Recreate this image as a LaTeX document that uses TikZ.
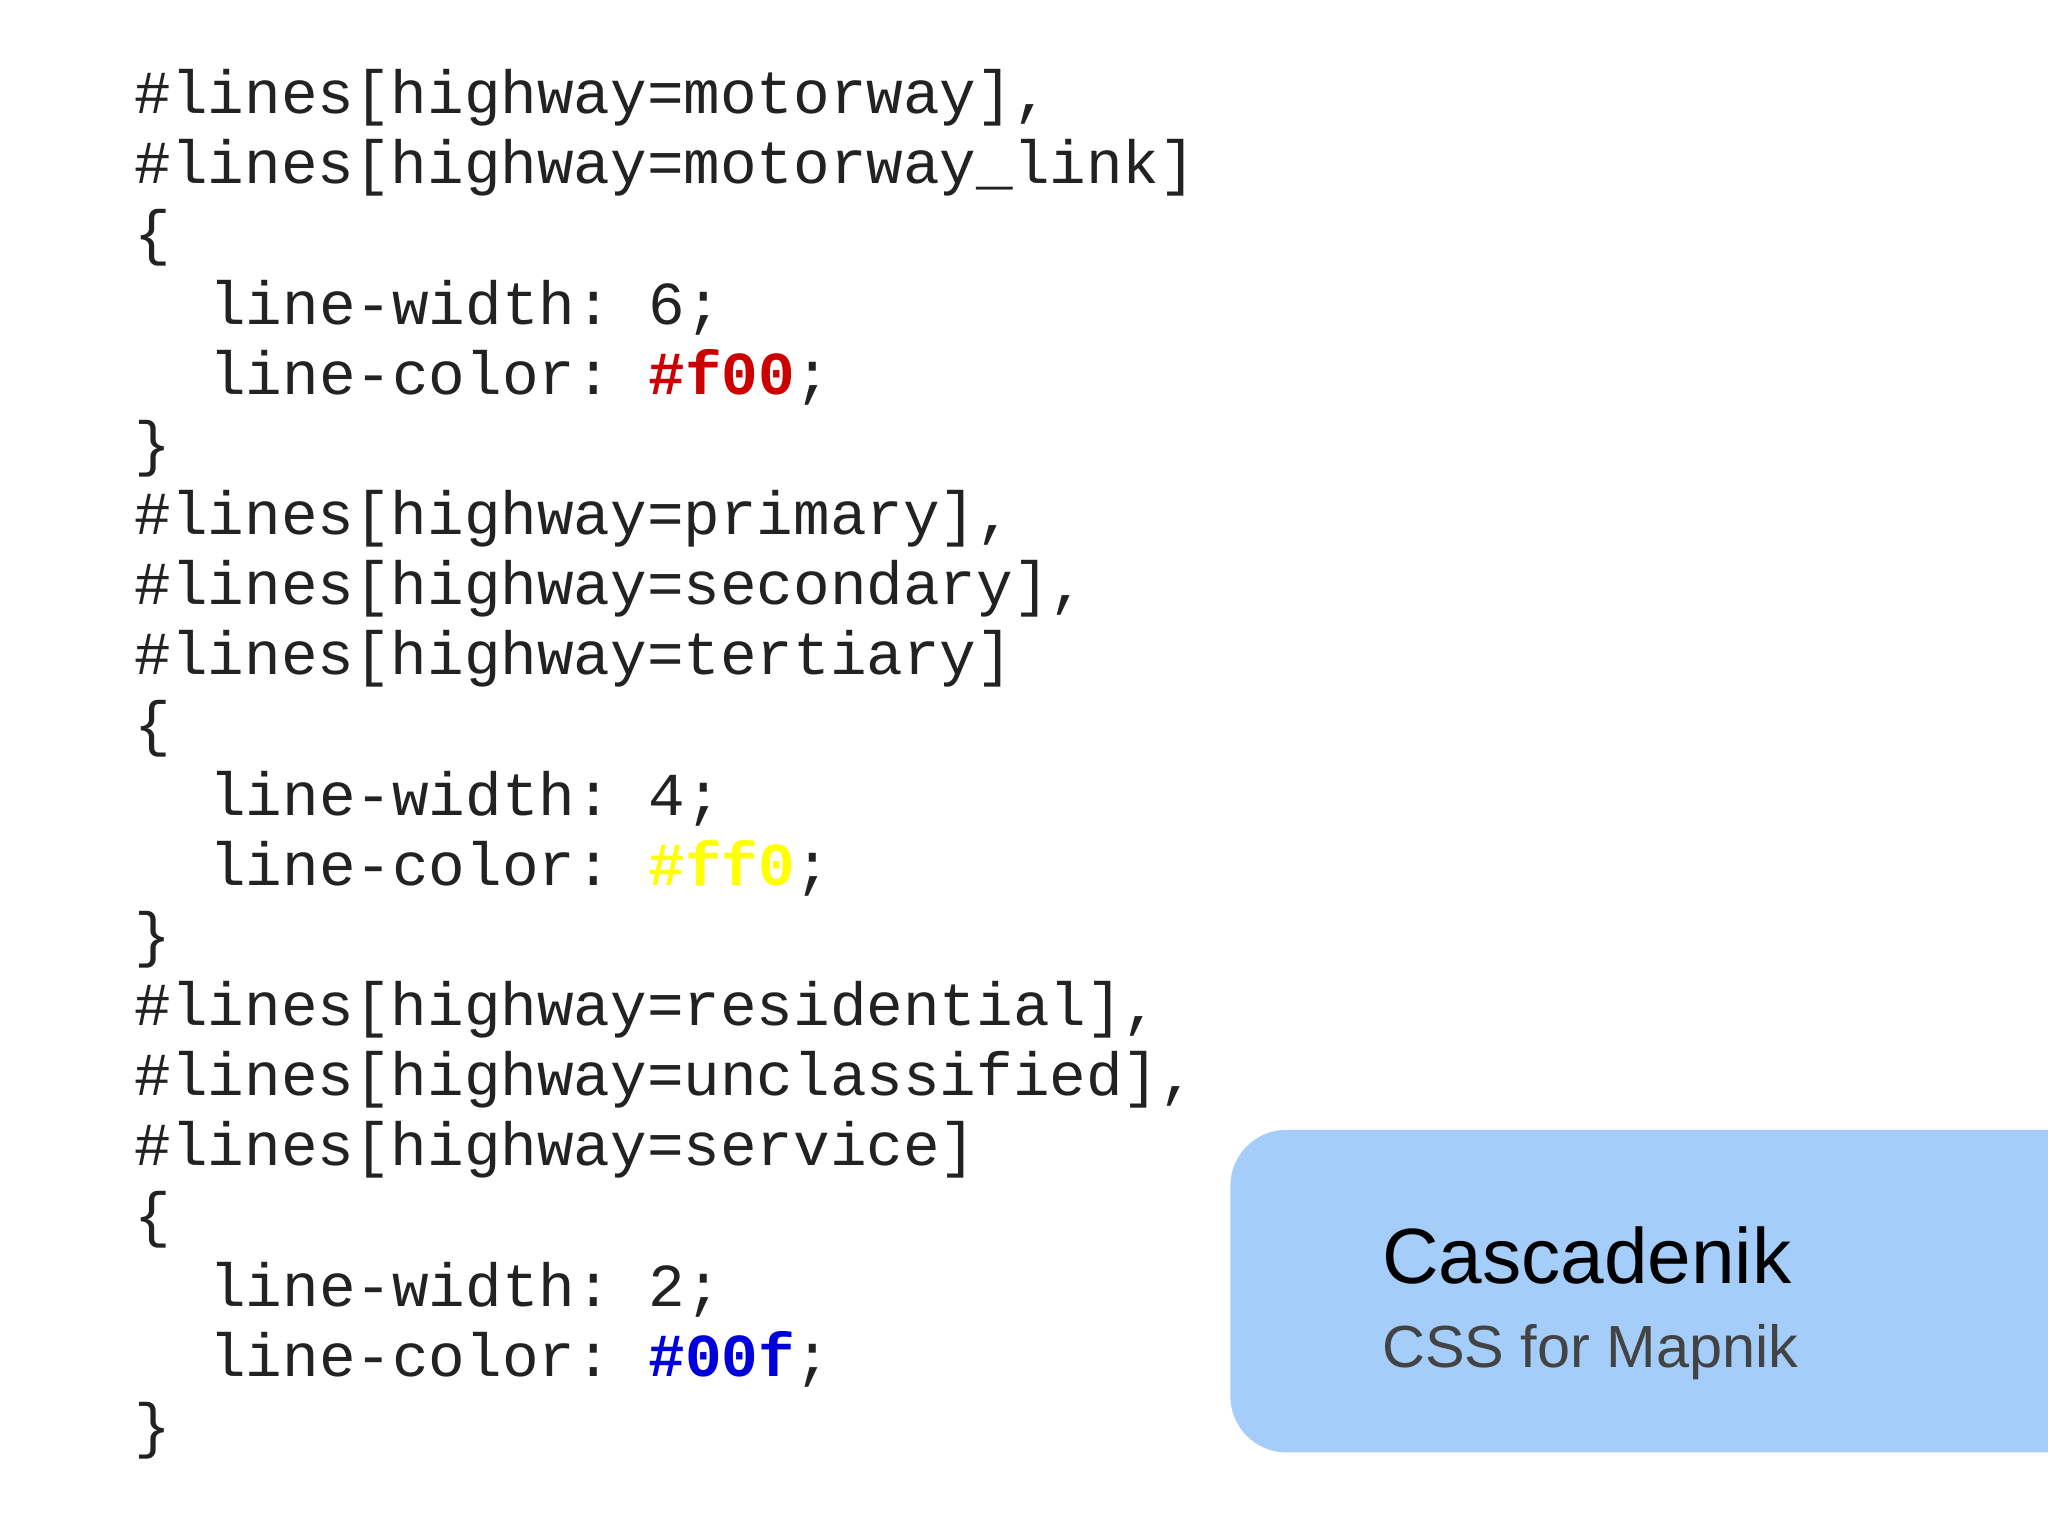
\documentclass[tikz,border=0pt]{standalone}
\usepackage{fontspec}
\setmainfont{Liberation Sans}
\setmonofont{Liberation Mono}
\definecolor{boxblue}{HTML}{A4CDFA}
\definecolor{codegray}{HTML}{222222}
\definecolor{cred}{HTML}{CC0000}
\definecolor{cyel}{HTML}{FFFF00}
\definecolor{cblue}{HTML}{0000DD}
\tikzset{code/.style={anchor=base west,inner sep=0pt,font=\fontsize{46.7}{50}\ttfamily,text=codegray}}
\begin{document}
\begin{tikzpicture}[x=1pt,y=-1pt]
\useasboundingbox[fill=white] (0,0) rectangle (1568,1175);
\def\L#1{87+53.7*#1}
\node[code] (l0) at (103,{\L{0}}) {\#lines[highway=motorway],};
\node[code] (l1) at (103,{\L{1}}) {\#lines[highway=motorway\_link]};
\node[code] (l2) at (103,{\L{2}}) {\{};
\node[code] (l3) at (160,{\L{3}}) {line-width: 6;};
\node[code] (l4) at (160,{\L{4}}) {line-color: \textcolor{cred}{\bfseries\#f00};};
\node[code] (l5) at (103,{\L{5}}) {\}};
\node[code] (l6) at (103,{\L{6}}) {\#lines[highway=primary],};
\node[code] (l7) at (103,{\L{7}}) {\#lines[highway=secondary],};
\node[code] (l8) at (103,{\L{8}}) {\#lines[highway=tertiary]};
\node[code] (l9) at (103,{\L{9}}) {\{};
\node[code] (l10) at (160,{\L{10}}) {line-width: 4;};
\node[code] (l11) at (160,{\L{11}}) {line-color: \textcolor{cyel}{\bfseries\#ff0};};
\node[code] (l12) at (103,{\L{12}}) {\}};
\node[code] (l13) at (103,{\L{13}}) {\#lines[highway=residential],};
\node[code] (l14) at (103,{\L{14}}) {\#lines[highway=unclassified],};
\node[code] (l15) at (103,{\L{15}}) {\#lines[highway=service]};
\node[code] (l16) at (103,{\L{16}}) {\{};
\node[code] (l17) at (160,{\L{17}}) {line-width: 2;};
\node[code] (l18) at (160,{\L{18}}) {line-color: \textcolor{cblue}{\bfseries\#00f};};
\node[code] (l19) at (103,{\L{19}}) {\}};
\fill[boxblue,rounded corners=43] (942,865) rectangle (1650,1112);
\node[anchor=base west,inner sep=0pt,font=\fontsize{60}{64}\selectfont,text=black] (title) at (1058,983) {Cascadenik};
\node[anchor=base west,inner sep=0pt,font=\fontsize{45.5}{48}\selectfont,text=codegray!85!white] (sub) at (1058,1047) {CSS for Mapnik};
\end{tikzpicture}
\end{document}
